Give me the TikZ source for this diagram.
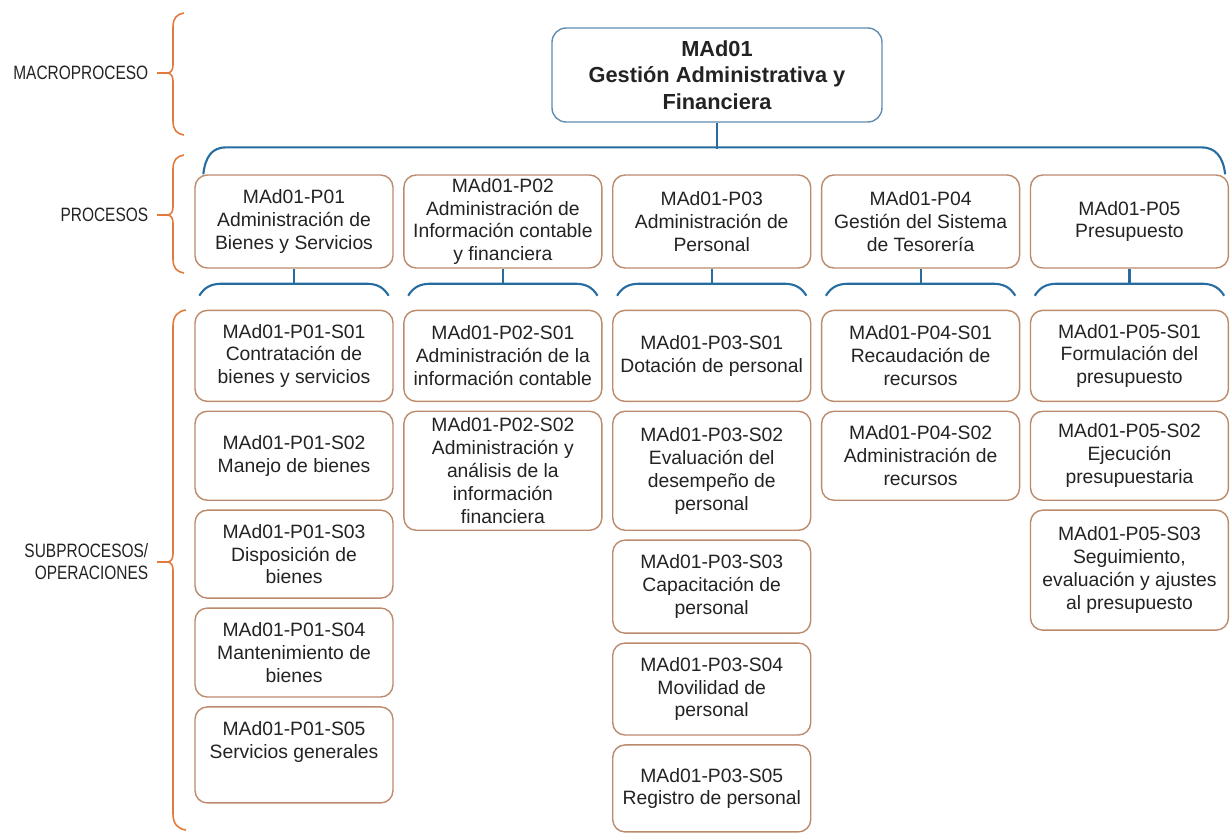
\documentclass[tikz,border=0pt]{standalone}
\usepackage{fontspec}
\setmainfont{Liberation Sans}
\newfontfamily\narrowfont[FakeStretch=0.8]{Liberation Sans}
\usetikzlibrary{positioning,calc}

\definecolor{boxline}{RGB}{188,138,108}
\definecolor{topline}{RGB}{96,140,178}
\definecolor{busline}{RGB}{38,108,160}
\definecolor{braceline}{RGB}{226,122,62}
\definecolor{txt}{RGB}{35,35,35}

\begin{document}
\begin{tikzpicture}[
    x=0.02cm, y=-0.02cm,
    node distance=0.17cm,
    proc/.style={draw=boxline, line width=0.8pt, fill=white, rounded corners=7pt, minimum width=3.96cm, minimum height=1.86cm, align=center, inner xsep=2pt, inner ysep=1pt, text=txt, font=\fontsize{11}{13}\selectfont},
    sub/.style={proc, minimum height=1.82cm},
    macro/.style={draw=topline, line width=0.8pt, fill=white, rounded corners=8pt, minimum width=6.6cm, minimum height=1.88cm, align=center, text=txt, font=\bfseries\fontsize{12.4}{15.2}\selectfont},
    lvl/.style={anchor=east, align=right, inner sep=1pt, outer sep=4pt, text=txt, font=\narrowfont\fontsize{11}{12.5}\selectfont},
    bus/.style={draw=busline, line width=1.2pt},
    sidebrace/.style={draw=braceline, line width=0.9pt}
]
    \useasboundingbox (0,0) rectangle (1232,836);

    % macroproceso
    \node (top) [macro] at (717,75) {MAd01\\Gestión Administrativa y\\Financiera};

    % procesos
    \node (p1) [proc] at (294,221.5) {MAd01-P01\\Administración de\\Bienes y Servicios};
    \node (p2) [proc, right=0.19cm of p1] {MAd01-P02\\Administración de\\Información contable\\y financiera};
    \node (p3) [proc, right=0.19cm of p2] {MAd01-P03\\Administración de\\Personal};
    \node (p4) [proc, right=0.19cm of p3] {MAd01-P04\\Gestión del Sistema\\de Tesorería};
    \node (p5) [proc, right=0.19cm of p4] {MAd01-P05\\Presupuesto};

    % subprocesos
    \node (s11) [sub, below=0.82cm of p1] {MAd01-P01-S01\\Contratación de\\bienes y servicios};
    \node (s12) [sub, below=of s11, minimum height=1.78cm] {MAd01-P01-S02\\Manejo de bienes};
    \node (s13) [sub, below=of s12, minimum height=1.76cm] {MAd01-P01-S03\\Disposición de\\bienes};
    \node (s14) [sub, below=of s13, minimum height=1.78cm] {MAd01-P01-S04\\Mantenimiento de\\bienes};
    \node (s15) [sub, below=of s14, minimum height=1.92cm] {MAd01-P01-S05\\Servicios generales\\\strut};

    \node (s21) [sub, below=0.82cm of p2] {MAd01-P02-S01\\Administración de la\\información contable};
    \node (s22) [sub, below=of s21, minimum height=2.38cm] {MAd01-P02-S02\\Administración y\\análisis de la\\información\\financiera};

    \node (s31) [sub, below=0.82cm of p3] {MAd01-P03-S01\\Dotación de personal};
    \node (s32) [sub, below=of s31, minimum height=2.38cm] {MAd01-P03-S02\\Evaluación del\\desempeño de\\personal};
    \node (s33) [sub, below=of s32, minimum height=1.86cm] {MAd01-P03-S03\\Capacitación de\\personal};
    \node (s34) [sub, below=of s33, minimum height=1.84cm] {MAd01-P03-S04\\Movilidad de\\personal};
    \node (s35) [sub, below=of s34, minimum height=1.74cm] {MAd01-P03-S05\\Registro de personal};

    \node (s41) [sub, below=0.82cm of p4] {MAd01-P04-S01\\Recaudación de\\recursos};
    \node (s42) [sub, below=of s41, minimum height=1.78cm] {MAd01-P04-S02\\Administración de\\recursos};

    \node (s51) [sub, below=0.82cm of p5] {MAd01-P05-S01\\Formulación del\\presupuesto};
    \node (s52) [sub, below=of s51, minimum height=1.78cm] {MAd01-P05-S02\\Ejecución\\presupuestaria};
    \node (s53) [sub, below=of s52, minimum height=2.40cm] {MAd01-P05-S03\\Seguimiento,\\evaluación y ajustes\\al presupuesto};

    % connectors
    \draw [bus] (top.south) -- ++(0,26);
    \draw [bus] ($(p1.north west)+(9,0)$) .. controls +(2,-18) and +(-14,0) .. ($(p1.north west)+(32,-27)$) -- ($(p5.north east)+(-28,-27)$) .. controls +(14,0) and +(-2,-18) .. ($(p5.north east)+(-4,0)$);

    \draw [bus] (p1.south) -- ++(0,15);
    \draw [bus] ($(p1.south west)+(5,27)$) .. controls +(5,-8) and +(-12,0) .. ($(p1.south west)+(28,15)$) -- ($(p1.south east)+(-28,15)$) .. controls +(12,0) and +(-5,-8) .. ($(p1.south east)+(-5,27)$);
    \draw [bus] (p2.south) -- ++(0,15);
    \draw [bus] ($(p2.south west)+(5,27)$) .. controls +(5,-8) and +(-12,0) .. ($(p2.south west)+(28,15)$) -- ($(p2.south east)+(-28,15)$) .. controls +(12,0) and +(-5,-8) .. ($(p2.south east)+(-5,27)$);
    \draw [bus] (p3.south) -- ++(0,15);
    \draw [bus] ($(p3.south west)+(5,27)$) .. controls +(5,-8) and +(-12,0) .. ($(p3.south west)+(28,15)$) -- ($(p3.south east)+(-28,15)$) .. controls +(12,0) and +(-5,-8) .. ($(p3.south east)+(-5,27)$);
    \draw [bus] (p4.south) -- ++(0,15);
    \draw [bus] ($(p4.south west)+(5,27)$) .. controls +(5,-8) and +(-12,0) .. ($(p4.south west)+(28,15)$) -- ($(p4.south east)+(-28,15)$) .. controls +(12,0) and +(-5,-8) .. ($(p4.south east)+(-5,27)$);
    \draw [bus] (p5.south) -- ++(0,15);
    \draw [bus] ($(p5.south west)+(5,27)$) .. controls +(5,-8) and +(-12,0) .. ($(p5.south west)+(28,15)$) -- ($(p5.south east)+(-28,15)$) .. controls +(12,0) and +(-5,-8) .. ($(p5.south east)+(-5,27)$);

    % levels
    \node (mlbl) [lvl] at (157,73) {MACROPROCESO};
    \node (plbl) [lvl] at (157,215) {PROCESOS};
    \node (slbl) [lvl] at (157,562) {SUBPROCESOS/\\OPERACIONES};

    \draw [sidebrace] (184,13) .. controls (177,14) and (173,18) .. (173,27) -- (173,65) .. controls (173,70) and (171,73) .. (167,73) coordinate (mtip) .. controls (171,73) and (173,76) .. (173,81) -- (173,121) .. controls (173,130) and (177,134) .. (184,135);
    \draw [sidebrace] (184,155) .. controls (177,156) and (173,160) .. (173,169) -- (173,207) .. controls (173,212) and (171,215) .. (167,215) coordinate (ptip) .. controls (171,215) and (173,218) .. (173,223) -- (173,259) .. controls (173,268) and (177,272) .. (184,273);
    \draw [sidebrace] (186,310) .. controls (178,311) and (173,316) .. (173,326) -- (173,554) .. controls (173,559) and (171,562) .. (167,562) coordinate (stip) .. controls (171,562) and (173,565) .. (173,570) -- (173,814) .. controls (173,824) and (178,829) .. (186,830);

    \draw [sidebrace] (mlbl) -- (mtip);
    \draw [sidebrace] (plbl) -- (ptip);
    \draw [sidebrace] (slbl) -- (stip);
\end{tikzpicture}
\end{document}
